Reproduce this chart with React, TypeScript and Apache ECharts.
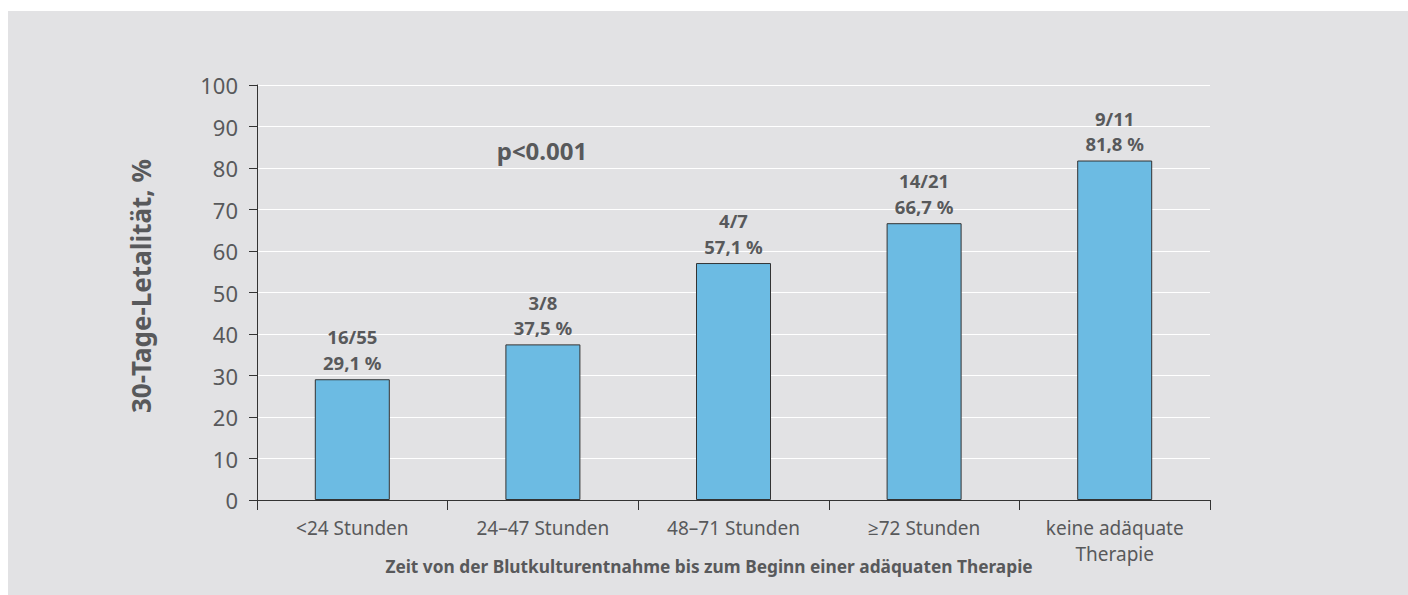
import React, { useEffect, useRef } from "react";
import * as echarts from "echarts";

// Time from blood culture sampling to start of adequate therapy
const categories = [
  "<24 Stunden",
  "24–47 Stunden",
  "48–71 Stunden",
  "≥72 Stunden",
  "keine adäquate\nTherapie",
];
// 30-day lethality (%)
const lethality = [29.1, 37.5, 57.1, 66.7, 81.8];
// deaths / patients per group
const fractions = ["16/55", "3/8", "4/7", "14/21", "9/11"];
const yTicks = { min: 0, max: 100, interval: 10 };

const FONT = "'Noto Sans', 'Open Sans', sans-serif";
const TEXT = "#58595b";

export default function App() {
  const ref = useRef<HTMLDivElement>(null);

  useEffect(() => {
    if (!ref.current) return;
    const chart = echarts.init(ref.current, undefined, { renderer: "svg" });
    chart.setOption({
      animation: false,
      backgroundColor: "#e2e2e4",
      textStyle: { fontFamily: FONT },
      grid: { left: 249, right: 198, top: 74, bottom: 95 },
      xAxis: {
        type: "category",
        data: categories,
        boundaryGap: true,
        axisLine: { lineStyle: { color: "#333", width: 1 } },
        axisTick: { show: true, length: 10, lineStyle: { color: "#333" } },
        axisLabel: {
          color: TEXT,
          fontSize: 19,
          fontFamily: FONT,
          margin: 15,
          lineHeight: 26,
          interval: 0,
        },
      },
      yAxis: {
        type: "value",
        min: yTicks.min,
        max: yTicks.max,
        interval: yTicks.interval,
        axisLine: { show: true, lineStyle: { color: "#333", width: 1 } },
        axisTick: { show: true, length: 8, lineStyle: { color: "#333" } },
        axisLabel: { color: TEXT, fontSize: 22, fontFamily: FONT, margin: 19 },
        splitLine: { lineStyle: { color: "#ffffff", width: 1.2 } },
      },
      series: [
        {
          type: "bar",
          data: lethality,
          barWidth: 75,
          itemStyle: { color: "#6cbbe3", borderColor: "#333", borderWidth: 1 },
          label: {
            show: true,
            position: "top",
            distance: 4,
            color: TEXT,
            fontSize: 18.5,
            fontWeight: "bold",
            fontFamily: FONT,
            lineHeight: 25.5,
            formatter: (p: any) =>
              `${fractions[p.dataIndex]}\n${p.value.toFixed(1).replace(".", ",")} %`,
          },
        },
      ],
      graphic: [
        {
          type: "text",
          x: 133,
          y: 275,
          rotation: Math.PI / 2,
          style: {
            text: "30-Tage-Letalität, %",
            fill: TEXT,
            font: `bold 26px ${FONT}`,
            textAlign: "center",
            textVerticalAlign: "middle",
          },
        },
        {
          type: "text",
          x: 534,
          y: 139,
          style: {
            text: "p<0.001",
            fill: TEXT,
            font: `bold 24px ${FONT}`,
            textAlign: "center",
            textVerticalAlign: "middle",
          },
        },
        {
          type: "text",
          x: 701,
          y: 555,
          style: {
            text: "Zeit von der Blutkulturentnahme bis zum Beginn einer adäquaten Therapie",
            fill: TEXT,
            font: `bold 17.3px ${FONT}`,
            textAlign: "center",
            textVerticalAlign: "middle",
          },
        },
      ],
    });
    return () => chart.dispose();
  }, []);

  return (
    <div
      ref={ref}
      style={{ position: "fixed", left: 8, top: 11, right: 0, bottom: 0 }}
    />
  );
}
